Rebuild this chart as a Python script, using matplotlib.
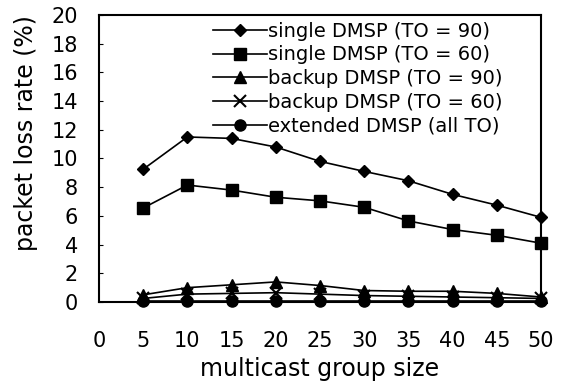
import matplotlib
matplotlib.use("Agg")
import matplotlib.pyplot as plt

plt.rcParams['font.family'] = ['DejaVu Sans']

group_size = [5, 10, 15, 20, 25, 30, 35, 40, 45, 50]

single_90 = [9.25, 11.5, 11.4, 10.8, 9.8, 9.1, 8.45, 7.5, 6.75, 5.9]
single_60 = [6.55, 8.15, 7.8, 7.3, 7.05, 6.6, 5.65, 5.05, 4.65, 4.1]
backup_90 = [0.5, 1.0, 1.2, 1.4, 1.15, 0.8, 0.75, 0.75, 0.6, 0.35]
backup_60 = [0.25, 0.55, 0.6, 0.65, 0.55, 0.45, 0.4, 0.35, 0.3, 0.25]
extended = [0.1, 0.1, 0.1, 0.1, 0.1, 0.1, 0.1, 0.1, 0.1, 0.1]

labels = ["single DMSP (TO = 90)", "single DMSP (TO = 60)",
          "backup DMSP (TO = 90)", "backup DMSP (TO = 60)",
          "extended DMSP (all TO)"]

fig = plt.figure(figsize=(5.67, 3.84), dpi=100)
ax = fig.add_axes([0.1746, 0.2135, 0.7795, 0.7475])

kw = dict(color='black', lw=1.2, clip_on=False)
ax.plot(group_size, single_90, marker='D', ms=6.5, label=labels[0], **kw)
ax.plot(group_size, single_60, marker='s', ms=8.5, label=labels[1], **kw)
ax.plot(group_size, backup_90, marker='^', ms=8, label=labels[2], **kw)
ax.plot(group_size, backup_60, marker='x', ms=8, mew=1.5, label=labels[3], **kw)
ax.plot(group_size, extended, marker='o', ms=8, label=labels[4], **kw)

ax.set_xlim(0, 50)
ax.set_ylim(0, 20)
ax.set_xticks(range(0, 55, 5))
ax.set_yticks(range(0, 22, 2))
ax.tick_params(axis='x', length=0, pad=21, labelsize=15)
ax.tick_params(axis='y', direction='in', length=3, pad=15, labelsize=15)
for s in ax.spines.values():
    s.set_linewidth(1.5)

ax.set_xlabel("multicast group size", fontsize=17, labelpad=4)
ax.set_ylabel("packet loss rate (%)", fontsize=17)
ax.yaxis.set_label_coords(-0.137, 0.59)

ax.legend(loc='upper left', bbox_to_anchor=(0.3757, 0.944), bbox_transform=fig.transFigure,
          frameon=False, fontsize=14, handlelength=2.78, handletextpad=0.05,
          labelspacing=0.25, borderaxespad=0, borderpad=0)

fig.savefig("out.png", dpi=100)
